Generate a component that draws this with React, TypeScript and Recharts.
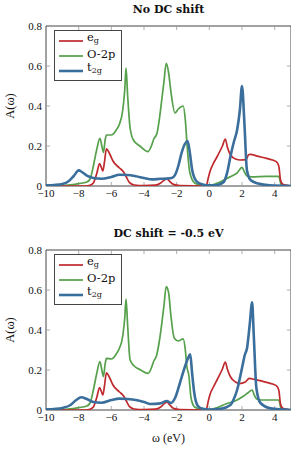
import React from 'react';
import { LineChart, Line, XAxis, YAxis, ReferenceLine, ReferenceArea } from 'recharts';

// A(w) spectra: [omega (eV), A]
const egTop = [
  [-10, 0], [-7.6, 0], [-7.3, 0.004], [-7.1, 0.015], [-6.9, 0.06], [-6.72, 0.112], [-6.6, 0.09],
  [-6.52, 0.075], [-6.42, 0.12], [-6.3, 0.186], [-6.1, 0.16], [-5.9, 0.125], [-5.5, 0.09],
  [-5.25, 0.07], [-5.08, 0.045], [-4.9, 0.018], [-4.6, 0.005], [-4, 0.002], [-3.3, 0.004],
  [-3, 0.014], [-2.75, 0.03], [-2.6, 0.035], [-2.45, 0.025], [-2.2, 0.008], [-1.8, 0.002],
  [-0.2, 0], [-0.05, 0.045], [0.05, 0.075], [0.2, 0.105], [0.5, 0.15], [0.8, 0.2], [0.98, 0.235],
  [1.1, 0.195], [1.3, 0.155], [1.6, 0.135], [1.9, 0.13], [2.25, 0.132], [2.4, 0.156], [2.5, 0.158],
  [3, 0.148], [3.5, 0.138], [4.1, 0.122], [4.25, 0.1], [4.36, 0.03], [4.5, 0.008], [4.8, 0.003], [5, 0],
];
const o2pTop = [
  [-10, 0], [-9, 0.002], [-8.5, 0.006], [-8, 0.012], [-7.5, 0.02], [-7.3, 0.035], [-7.1, 0.1],
  [-6.9, 0.18], [-6.7, 0.238], [-6.58, 0.2], [-6.48, 0.168], [-6.38, 0.23], [-6.3, 0.255],
  [-6.0, 0.255], [-5.7, 0.28], [-5.5, 0.31], [-5.3, 0.38], [-5.18, 0.48], [-5.1, 0.59], [-5.0, 0.45],
  [-4.85, 0.29], [-4.65, 0.23], [-4.25, 0.2], [-3.75, 0.172], [-3.55, 0.2], [-3.4, 0.235],
  [-3.2, 0.265], [-3.05, 0.34], [-2.9, 0.44], [-2.78, 0.52], [-2.64, 0.613], [-2.5, 0.57],
  [-2.35, 0.47], [-2.1, 0.365], [-1.9, 0.385], [-1.6, 0.4], [-1.47, 0.33], [-1.35, 0.19],
  [-1.2, 0.07], [-0.9, 0.015], [-0.5, 0.004], [0, 0.002], [0.5, 0.015], [1.08, 0.038],
  [1.5, 0.055], [1.7, 0.065], [2.0, 0.093], [2.15, 0.07], [2.3, 0.05], [2.6, 0.046], [3.5, 0.048],
  [4.25, 0.048], [4.42, 0], [5, 0],
];
const t2gTop = [
  [-10, 0.003], [-9.5, 0.005], [-9, 0.01], [-8.6, 0.025], [-8.3, 0.05], [-8.0, 0.078], [-7.8, 0.07],
  [-7.5, 0.052], [-7.1, 0.04], [-6.6, 0.036], [-6.0, 0.045], [-5.5, 0.056], [-5.0, 0.055],
  [-4.5, 0.049], [-4.0, 0.04], [-3.5, 0.033], [-3.0, 0.036], [-2.6, 0.037], [-2.3, 0.04],
  [-2.1, 0.055], [-1.9, 0.1], [-1.7, 0.165], [-1.5, 0.21], [-1.33, 0.225], [-1.2, 0.17],
  [-1.05, 0.08], [-0.8, 0.025], [-0.5, 0.01], [-0.2, 0.004], [0.2, 0.003], [0.6, 0.008],
  [0.88, 0.02], [1.08, 0.063], [1.29, 0.147], [1.5, 0.22], [1.7, 0.28], [1.87, 0.38], [2.0, 0.5],
  [2.15, 0.31], [2.3, 0.08], [2.52, 0.03], [3.0, 0.012], [3.7, 0.003], [5, 0],
];

const egShift = [
  [-10, 0], [-7.6, 0], [-7.3, 0.004], [-7.1, 0.015], [-6.9, 0.06], [-6.72, 0.112], [-6.6, 0.09],
  [-6.52, 0.075], [-6.42, 0.12], [-6.3, 0.186], [-6.1, 0.16], [-5.9, 0.125], [-5.5, 0.09],
  [-5.25, 0.07], [-5.08, 0.045], [-4.9, 0.018], [-4.6, 0.005], [-4, 0.002], [-3.3, 0.004],
  [-3, 0.014], [-2.75, 0.032], [-2.6, 0.04], [-2.45, 0.028], [-2.2, 0.008], [-1.8, 0.002],
  [-0.2, 0], [-0.05, 0.05], [0.05, 0.08], [0.25, 0.115], [0.5, 0.155], [0.8, 0.205], [0.98, 0.24],
  [1.1, 0.205], [1.3, 0.165], [1.6, 0.14], [1.85, 0.132], [2.2, 0.14], [2.45, 0.158],
  [2.75, 0.153], [3.5, 0.138], [4.1, 0.122], [4.25, 0.1], [4.36, 0.03], [4.5, 0.008], [4.8, 0.003], [5, 0],
];
const o2pShift = [
  [-10, 0], [-9, 0.002], [-8.5, 0.006], [-8, 0.012], [-7.5, 0.02], [-7.3, 0.035], [-7.1, 0.1],
  [-6.9, 0.18], [-6.7, 0.242], [-6.58, 0.2], [-6.48, 0.167], [-6.38, 0.23], [-6.3, 0.258],
  [-6.0, 0.255], [-5.7, 0.28], [-5.5, 0.31], [-5.3, 0.37], [-5.18, 0.46], [-5.1, 0.555], [-5.0, 0.42],
  [-4.85, 0.25], [-4.6, 0.22], [-4.2, 0.2], [-3.75, 0.183], [-3.55, 0.21], [-3.4, 0.245],
  [-3.25, 0.267], [-3.05, 0.35], [-2.9, 0.44], [-2.78, 0.52], [-2.64, 0.617], [-2.5, 0.59],
  [-2.35, 0.47], [-2.15, 0.36], [-1.9, 0.345], [-1.6, 0.356], [-1.47, 0.3], [-1.38, 0.22],
  [-1.25, 0.17], [-1.12, 0.06], [-0.9, 0.015], [-0.5, 0.004], [0, 0.002], [0.5, 0.012],
  [1.0, 0.03], [1.7, 0.05], [2.1, 0.07], [2.35, 0.085], [2.62, 0.1], [2.75, 0.075], [2.9, 0.055],
  [3.2, 0.05], [4.25, 0.05], [4.42, 0], [5, 0],
];
const t2gShift = [
  [-10, 0.003], [-9.5, 0.005], [-9, 0.01], [-8.5, 0.025], [-8.15, 0.05], [-7.85, 0.064],
  [-7.5, 0.055], [-7.1, 0.04], [-6.6, 0.036], [-6.0, 0.05], [-5.5, 0.057], [-5.0, 0.055],
  [-4.5, 0.05], [-4.0, 0.04], [-3.6, 0.03], [-3.0, 0.033], [-2.6, 0.045], [-2.35, 0.035],
  [-2.1, 0.06], [-1.8, 0.135], [-1.5, 0.215], [-1.3, 0.26], [-1.17, 0.278], [-1.05, 0.18],
  [-0.93, 0.09], [-0.7, 0.02], [-0.4, 0.006], [0, 0.002], [0.7, 0.006], [1.29, 0.025],
  [1.5, 0.055], [1.7, 0.1], [2.0, 0.21], [2.17, 0.275], [2.31, 0.31], [2.47, 0.425], [2.62, 0.538],
  [2.72, 0.375], [2.88, 0.11], [3.13, 0.035], [3.75, 0.008], [5, 0],
];

const xTicks = [-10, -8, -6, -4, -2, 0, 2, 4];
const yTicks = [0, 0.2, 0.4, 0.6, 0.8];

const RED = '#bf2a2e';
const GREEN = '#55a04a';
const BLUE = '#3a6e9c';

const toPts = (arr: number[][]) => arr.map(([x, y]) => ({ x, y }));

const SERIF = '"Liberation Serif", "DejaVu Serif", serif';
const tickFont = { fontFamily: SERIF, fontSize: 11, fill: '#111', style: { fontFamily: SERIF } };

function Legend({ top }: { top: number }) {
  const sub = { fontSize: 8, verticalAlign: -2 };
  const rows = [
    { c: RED, w: 1.7, label: <span>e<sub style={sub}>g</sub></span> },
    { c: GREEN, w: 1.7, label: <span>O-2p</span> },
    { c: BLUE, w: 2.6, label: <span>t<sub style={sub}>2g</sub></span> },
  ];
  return (
    <div style={{
      position: 'absolute', left: 54, top, width: 66, height: 49, border: '1px solid #444',
      background: '#fff', fontFamily: 'DejaVu Serif', fontSize: 11.5, color: '#111',
    }}>
      {rows.map((r, i) => (
        <div key={i} style={{ position: 'absolute', left: 4, top: 2 + i * 15, height: 15, display: 'flex', alignItems: 'center' }}>
          <svg width={24} height={6} style={{ marginRight: 4 }}>
            <line x1={0} y1={3} x2={24} y2={3} stroke={r.c} strokeWidth={r.w} />
          </svg>
          <span style={{ lineHeight: '15px', marginTop: -3 }}>{r.label}</span>
        </div>
      ))}
    </div>
  );
}

type PanelProps = {
  title: string;
  eg: number[][];
  o2p: number[][];
  t2g: number[][];
  marginTop: number;
  xHeight: number;
  xLabel?: boolean;
};

function Panel({ title, eg, o2p, t2g, marginTop, xHeight, xLabel }: PanelProps) {
  return (
    <div style={{ position: 'relative', width: 291, height: 225, fontFamily: SERIF }}>
      <div style={{
        position: 'absolute', left: 46, width: 245, top: marginTop - 22, textAlign: 'center',
        fontFamily: 'DejaVu Serif', fontWeight: 'bold', fontSize: 11, lineHeight: '12px', color: '#111',
      }}>{title}</div>
      <LineChart width={291} height={225} margin={{ top: marginTop, right: 0, left: 0, bottom: 0 }} style={{ fontFamily: SERIF }}>
        <XAxis
          type="number" dataKey="x" domain={[-10, 5]} ticks={xTicks} allowDataOverflow
          tickLine={false} axisLine={false} tickSize={0} tickMargin={3} height={xHeight}
          tick={tickFont} tickFormatter={(v: number) => String(v).replace('-', '\u2212')}
          label={xLabel ? {
            value: '\u03c9 (eV)', position: 'insideBottom', offset: 8,
            style: { fontFamily: SERIF, fontSize: 12, fill: '#111' },
          } : undefined}
        />
        <YAxis
          type="number" domain={[0, 0.8]} ticks={yTicks} allowDataOverflow width={46}
          tickLine={false} axisLine={false} tickSize={0} tickMargin={4}
          tick={tickFont} tickFormatter={(v: number) => (v === 0 ? '0' : v.toFixed(1))}
          label={{
            value: 'A(\u03c9)', angle: -90, position: 'insideLeft', offset: 10,
            style: { fontFamily: SERIF, fontSize: 12.5, fill: '#111', textAnchor: 'middle' },
          }}
        />
        {xTicks.slice(1).map((t) => (
          <ReferenceLine key={'b' + t} segment={[{ x: t, y: 0 }, { x: t, y: 0.02 }]} stroke="#999" strokeWidth={0.8} />
        ))}
        {xTicks.slice(1).map((t) => (
          <ReferenceLine key={'t' + t} segment={[{ x: t, y: 0.78 }, { x: t, y: 0.8 }]} stroke="#999" strokeWidth={0.8} />
        ))}
        {yTicks.slice(1, 4).map((t) => (
          <ReferenceLine key={'l' + t} segment={[{ x: -10, y: t }, { x: -9.75, y: t }]} stroke="#999" strokeWidth={0.8} />
        ))}
        {yTicks.slice(1, 4).map((t) => (
          <ReferenceLine key={'r' + t} segment={[{ x: 4.75, y: t }, { x: 5, y: t }]} stroke="#999" strokeWidth={0.8} />
        ))}
        <Line data={toPts(o2p)} dataKey="y" type="monotone" stroke={GREEN} strokeWidth={1.7} dot={false} isAnimationActive={false} />
        <Line data={toPts(eg)} dataKey="y" type="monotone" stroke={RED} strokeWidth={1.7} dot={false} isAnimationActive={false} />
        <Line data={toPts(t2g)} dataKey="y" type="monotone" stroke={BLUE} strokeWidth={2.6} dot={false} isAnimationActive={false} />
        <ReferenceArea x1={-10} x2={5} y1={0} y2={0.8} fill="none" stroke="#444" strokeWidth={1} />
      </LineChart>
      <Legend top={marginTop + 4} />
    </div>
  );
}

export default function App() {
  return (
    <div style={{ position: 'absolute', left: 0, top: 0, width: 291, height: 450, background: '#fff' }}>
      <Panel title="No DC shift" eg={egTop} o2p={o2pTop} t2g={t2gTop} marginTop={26} xHeight={39} />
      <Panel title="DC shift = -0.5 eV" eg={egShift} o2p={o2pShift} t2g={t2gShift} marginTop={25} xHeight={40} xLabel />
    </div>
  );
}
